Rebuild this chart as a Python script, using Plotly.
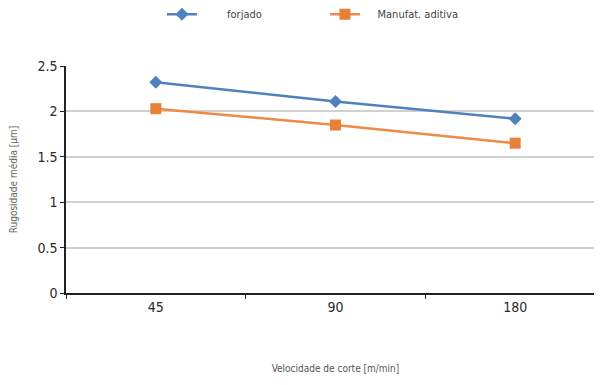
import plotly.graph_objects as go

categories = ["45", "90", "180"]
forjado = [2.32, 2.11, 1.92]
manufat = [2.03, 1.85, 1.65]
y_ticks = [0, 0.5, 1, 1.5, 2, 2.5]
y_tick_labels = ["0", "0.5", "1", "1.5", "2", "2.5"]
series_names = ["\u00a0\u00a0\u00a0\u00a0\u00a0\u00a0\u00a0\u00a0forjado", "\u00a0\u00a0\u00a0\u00a0Manufat. aditiva"]

FONT = "DejaVu Sans Condensed, Liberation Sans, sans-serif"

fig = go.Figure()
fig.add_trace(go.Scatter(
    x=categories, y=forjado, name=series_names[0], mode="lines+markers",
    line=dict(color="#4F81BD", width=2.5),
    marker=dict(symbol="diamond", size=10, color="#4F81BD"),
))
fig.add_trace(go.Scatter(
    x=categories, y=manufat, name=series_names[1], mode="lines+markers",
    line=dict(color="#EE8A45", width=2.5),
    marker=dict(symbol="square", size=11, color="#E8803A"),
))

fig.update_layout(
    width=602, height=385,
    margin=dict(l=58, r=5, t=58, b=100, autoexpand=False),
    paper_bgcolor="white", plot_bgcolor="white",
    font=dict(family=FONT, color="#333333"),
    showlegend=True,
    legend=dict(orientation="h", x=0.178, y=0.984, yref="container", yanchor="middle",
                xanchor="left", font=dict(size=11, color="#444444"),
                itemwidth=30, entrywidth=118, bgcolor="rgba(0,0,0,0)"),
    xaxis=dict(
        type="category", range=[-0.5, 2.5], automargin=False,
        showline=True, linecolor="#222222", linewidth=1.5,
        ticks="outside", tickson="boundaries", ticklen=4, tickcolor="#222222",
        showgrid=False,
        tickfont=dict(size=14, color="#2a2a2a"),
        title=dict(text="Velocidade de corte [m/min]", font=dict(size=10, color="#555555"), standoff=51),
    ),
    yaxis=dict(
        range=[0, 2.5], tickvals=y_ticks, ticktext=y_tick_labels, automargin=False,
        showline=True, linecolor="#222222", linewidth=1.5,
        ticks="outside", ticklen=4, tickcolor="#222222",
        showgrid=True, gridcolor="#d0d0d0", gridwidth=2,
        zeroline=False,
        tickfont=dict(size=14, color="#2a2a2a"),
        title=dict(text="Rugosidade média [µm]", font=dict(size=10, color="#666666"), standoff=22),
    ),
)

fig.write_html("out.html")
